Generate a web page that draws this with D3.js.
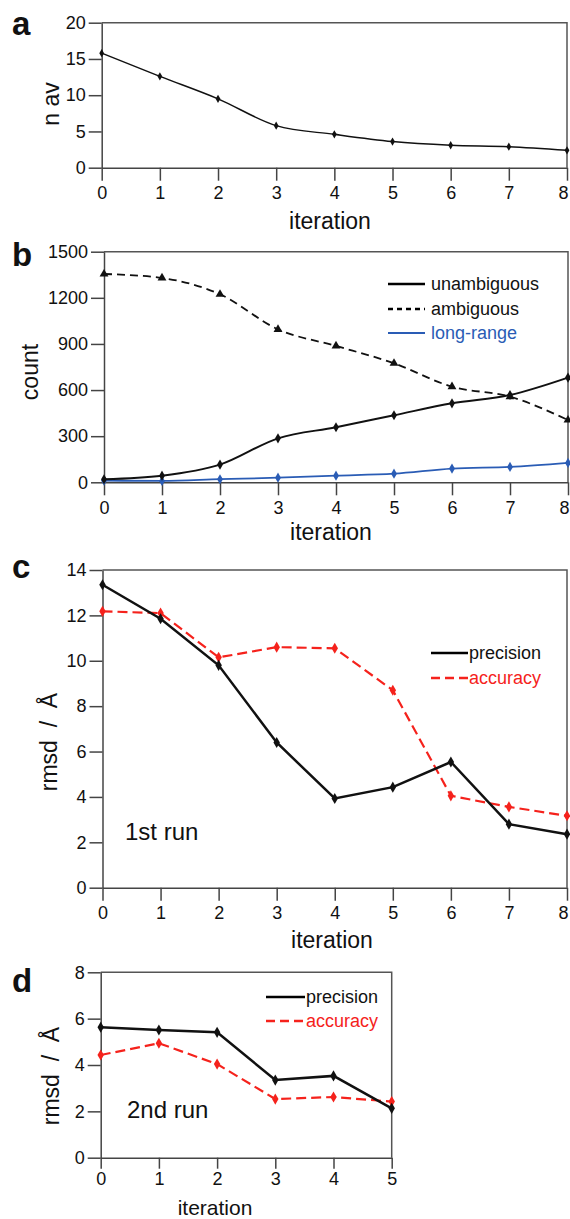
<!DOCTYPE html>
<html>
<head>
<meta charset="utf-8">
<script src="https://cdn.jsdelivr.net/npm/d3@7"></script>
<style>
  body { margin: 0; background: #fff; }
  svg { display: block; }
  text { font-family: 'Liberation Sans', Arial, Helvetica, sans-serif; fill: #111; }
  .axis path, .axis line { stroke: #444; stroke-width: 1.5; }
  .axis text { font-size: 18px; fill: #111; font-family: 'Liberation Sans', Arial, sans-serif; }
  .frame { fill: none; stroke: #555; stroke-width: 1.5; }
  .letter { font-size: 33px; font-weight: bold; }
  .axis-label { font-size: 23px; }
  .legend text { font-size: 18px; }
</style>
</head>
<body>
<svg id="fig" width="570" height="1219"></svg>
<script>
/// data
var iterations = [0, 1, 2, 3, 4, 5, 6, 7, 8];
var nav = [15.8, 12.6, 9.5, 5.8, 4.6, 3.6, 3.1, 2.9, 2.4];

var unambiguous = [20, 43, 115, 286, 358, 436, 514, 568, 681];
var ambiguous = [1355, 1329, 1223, 995, 887, 774, 622, 557, 405];
var longRange = [11, 9, 20, 30, 43, 56, 89, 100, 126];

var precision1 = [13.35, 11.85, 9.8, 6.4, 3.93, 4.43, 5.54, 2.8, 2.36];
var accuracy1 = [12.18, 12.1, 10.15, 10.6, 10.55, 8.7, 4.05, 3.56, 3.17];

var iterations2 = [0, 1, 2, 3, 4, 5];
var precision2 = [5.63, 5.51, 5.41, 3.35, 3.53, 2.13];
var accuracy2 = [4.43, 4.94, 4.04, 2.53, 2.62, 2.42];

var ticksA = [0, 5, 10, 15, 20],
    ticksB = [0, 300, 600, 900, 1200, 1500],
    ticksC = [0, 2, 4, 6, 8, 10, 12, 14],
    ticksD = [0, 2, 4, 6, 8];

var legendB = ['unambiguous', 'ambiguous', 'long-range'],
    legendRun = ['precision', 'accuracy'];

var blue = '#2a5cb5', red = '#f5221c';

var svg = d3.select('#fig');
var fmt = d3.format('d');

function panel(o) {
	var x = d3.scaleLinear().domain([0, o.xMax]).range([o.left, o.right]),
		y = d3.scaleLinear().domain([0, o.yMax]).range([o.bottom, o.top]);
	var g = svg.append('g');

	g.append('path')
		.attr('class', 'frame')
		.attr('d', 'M' + o.left + ',' + o.top + 'H' + o.right + 'V' + o.bottom);

	var xAxis = g.append('g')
		.attr('class', 'axis')
		.attr('transform', 'translate(0,' + o.bottom + ')')
		.call(d3.axisBottom(x).tickValues(o.xTicks).tickFormat(fmt)
			.tickSize(o.xTickSize || 13).tickSizeOuter(0).tickPadding(o.xPad || 6));
	// last label sits on the page edge, pull it in a little
	xAxis.selectAll('.tick text')
		.filter(function(d) { return x(d) > 560; })
		.attr('dx', -4);

	g.append('g')
		.attr('class', 'axis')
		.attr('transform', 'translate(' + o.left + ',0)')
		.call(d3.axisLeft(y).tickValues(o.yTicks).tickFormat(fmt).tickSize(13).tickSizeOuter(0).tickPadding(3));

	g.append('text')
		.attr('class', 'letter')
		.attr('x', 12)
		.attr('y', o.letterY)
		.text(o.letter);

	g.append('text')
		.attr('class', 'axis-label')
		.attr('transform', 'translate(' + o.yTitleX + ',' + o.yTitleY + ') rotate(-90)')
		.style('text-anchor', 'middle')
		.text(o.yTitle);

	g.append('text')
		.attr('class', 'axis-label')
		.attr('x', o.xTitleX)
		.attr('y', o.xTitleY)
		.style('text-anchor', 'middle')
		.style('font-size', o.xTitleSize || null)
		.text('iteration');

	return {g: g, x: x, y: y};
}

function series(p, xs, vals, color, width, dash, curve, symbol, size) {
	var pts = xs.map(function(d, i) { return [d, vals[i]]; });
	var line = d3.line()
		.x(function(d) { return p.x(d[0]); })
		.y(function(d) { return p.y(d[1]); })
		.curve(curve);
	p.g.append('path')
		.attr('d', line(pts))
		.attr('fill', 'none')
		.attr('stroke', color)
		.attr('stroke-width', width)
		.attr('stroke-dasharray', dash);
	p.g.selectAll(null)
		.data(pts)
		.enter().append('path')
		.attr('transform', function(d) { return 'translate(' + p.x(d[0]) + ',' + p.y(d[1]) + ')'; })
		.attr('d', d3.symbol().type(symbol).size(size))
		.attr('fill', color);
}

function legend(p, labels, colors, dashes, x1, x2, tx, ys, widths) {
	var lg = p.g.append('g').attr('class', 'legend');
	labels.forEach(function(l, i) {
		lg.append('line')
			.attr('x1', x1).attr('x2', x2)
			.attr('y1', ys[i]).attr('y2', ys[i])
			.attr('stroke', colors[i])
			.attr('stroke-width', widths[i])
			.attr('stroke-dasharray', dashes[i]);
		lg.append('text')
			.attr('x', tx)
			.attr('y', ys[i])
			.attr('dy', '0.35em')
			.style('fill', colors[i] == '#000' ? '#111' : colors[i])
			.text(l);
	});
}

/// panel a
var pa = panel({left: 101.7, right: 567, top: 22.7, bottom: 167.7, xMax: 8, yMax: 20,
	xTicks: iterations, yTicks: ticksA, letter: 'a', letterY: 35,
	yTitle: 'n av', yTitleX: 59, yTitleY: 104, xTitleX: 330, xTitleY: 229});
series(pa, iterations, nav, '#111', 1.5, null, d3.curveMonotoneX, d3.symbolDiamond, 20);

/// panel b
var pb = panel({left: 104, right: 568, top: 251.7, bottom: 482.3, xMax: 8, yMax: 1500,
	xTicks: iterations, yTicks: ticksB, letter: 'b', letterY: 266,
	yTitle: 'count', yTitleX: 38, yTitleY: 372, xTitleX: 331, xTitleY: 540});
series(pb, iterations, longRange, blue, 1.8, null, d3.curveMonotoneX, d3.symbolDiamond, 30);
series(pb, iterations, ambiguous, '#111', 1.8, '8,5', d3.curveMonotoneX, d3.symbolTriangle, 34);
series(pb, iterations, unambiguous, '#111', 2, null, d3.curveMonotoneX, d3.symbolDiamond, 30);
legend(pb, legendB, ['#000', '#000', blue], [null, '5,4', null], 388, 425, 431, [284, 309, 333], [2.5, 2.5, 2]);

/// panel c
var pc = panel({left: 102.5, right: 567, top: 570, bottom: 887.7, xMax: 8, yMax: 14,
	xTicks: iterations, yTicks: ticksC, letter: 'c', letterY: 578,
	yTitle: 'rmsd\u00a0\u00a0/\u00a0\u00a0Å', yTitleX: 57, yTitleY: 742, xTitleX: 332, xTitleY: 948});
series(pc, iterations, accuracy1, red, 2.2, '10,5', d3.curveLinear, d3.symbolDiamond, 36);
series(pc, iterations, precision1, '#111', 2.5, null, d3.curveLinear, d3.symbolDiamond, 36);
legend(pc, legendRun, ['#000', red], [null, '9,5'], 431, 468, 469, [653, 678], [2.5, 2.5]);
pc.g.append('text')
	.attr('x', 125)
	.attr('y', 840)
	.style('font-size', '24px')
	.text('1st run');

/// panel d (tight at the page bottom)
var pd = panel({left: 100.7, right: 391.7, top: 972.3, bottom: 1157.7, xMax: 5, yMax: 8,
	xTicks: iterations2, yTicks: ticksD, letter: 'd', letterY: 992,
	yTitle: 'rmsd\u00a0\u00a0/\u00a0\u00a0Å', yTitleX: 59, yTitleY: 1076,
	xTitleX: 215, xTitleY: 1214.5, xTitleSize: '21px', xTickSize: 11, xPad: 4});
series(pd, iterations2, accuracy2, red, 2.2, '10,5', d3.curveLinear, d3.symbolDiamond, 36);
series(pd, iterations2, precision2, '#111', 2.5, null, d3.curveLinear, d3.symbolDiamond, 36);
legend(pd, legendRun, ['#000', red], [null, '9,5'], 266, 305, 306, [997, 1021], [2.5, 2.5]);
pd.g.append('text')
	.attr('x', 127)
	.attr('y', 1118)
	.style('font-size', '24px')
	.text('2nd run');
</script>
</body>
</html>
